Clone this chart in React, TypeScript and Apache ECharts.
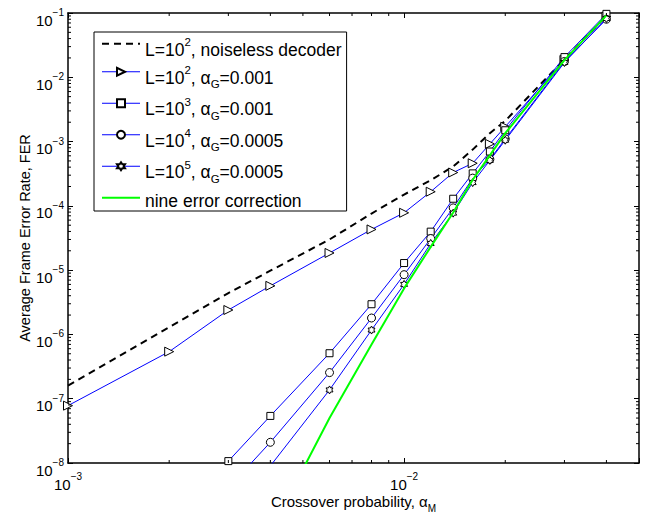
import React, { useEffect, useRef } from "react";
import * as echarts from "echarts";

// Axis extents (log-log)
const X_MIN = 0.001;
const X_MAX = 0.05;
const Y_MIN = 1e-8;
const Y_MAX = 1e-1;

// L=10^2, noiseless decoder (dashed)
const xNoiseless = [0.001, 0.002, 0.003, 0.004, 0.006, 0.008, 0.01, 0.012, 0.014, 0.016, 0.018, 0.02, 0.03, 0.04];
const ferNoiseless = [1.6e-7, 1.3e-6, 4.4e-6, 9.8e-6, 3.0e-5, 7.6e-5, 1.5e-4, 2.5e-4, 4.1e-4, 7.5e-4, 1.35e-3, 2.1e-3, 1.9e-2, 9.0e-2];

// L=10^2, alpha_G=0.001 (triangles)
const xL2 = [0.001, 0.002, 0.003, 0.004, 0.006, 0.008, 0.01, 0.012, 0.014, 0.016, 0.018, 0.02, 0.03, 0.04];
const ferL2 = [7.8e-8, 5.4e-7, 2.4e-6, 5.7e-6, 1.85e-5, 4.3e-5, 7.8e-5, 1.66e-4, 3.3e-4, 4.6e-4, 9.2e-4, 1.7e-3, 1.86e-2, 8.8e-2];

// L=10^3, alpha_G=0.001 (squares)
const xL3 = [0.003, 0.004, 0.006, 0.008, 0.01, 0.012, 0.014, 0.016, 0.018, 0.02, 0.03, 0.04];
const ferL3 = [1.07e-8, 5.4e-8, 5.1e-7, 2.95e-6, 1.29e-5, 3.97e-5, 1.29e-4, 3.2e-4, 7.0e-4, 1.5e-3, 2.06e-2, 9.7e-2];

// L=10^4, alpha_G=0.0005 (circles)
const xL4 = [0.003, 0.004, 0.006, 0.008, 0.01, 0.012, 0.014, 0.016, 0.018, 0.02, 0.03, 0.04];
const ferL4 = [4.1e-9, 2.1e-8, 2.55e-7, 1.8e-6, 8.5e-6, 3.1e-5, 9.3e-5, 2.7e-4, 5.3e-4, 1.1e-3, 1.76e-2, 8.0e-2];

// L=10^5, alpha_G=0.0005 (hexagrams)
const xL5 = [0.004, 0.006, 0.008, 0.01, 0.012, 0.014, 0.016, 0.018, 0.02, 0.03, 0.04];
const ferL5 = [9e-9, 1.37e-7, 1.17e-6, 6.0e-6, 2.6e-5, 7.7e-5, 2.3e-4, 5.1e-4, 1.05e-3, 1.7e-2, 8.2e-2];

// Nine error correction (green)
const xNine = [0.004, 0.005, 0.006, 0.008, 0.01, 0.012, 0.014, 0.016, 0.018, 0.02, 0.03, 0.04];
const ferNine = [8e-10, 8e-9, 5e-8, 7e-7, 5.2e-6, 2.3e-5, 7.9e-5, 2.55e-4, 6.1e-4, 1.35e-3, 1.85e-2, 9.2e-2];

// Series names and their legend captions
const NAME_NOISELESS = "L=10^2, noiseless decoder";
const NAME_L2 = "L=10^2, αG=0.001";
const NAME_L3 = "L=10^3, αG=0.001";
const NAME_L4 = "L=10^4, αG=0.0005";
const NAME_L5 = "L=10^5, αG=0.0005";
const NAME_NINE = "nine error correction";

const legendCaptions: Record<string, string> = {
  [NAME_NOISELESS]: "{t|L=10}{sup|2}{t|, noiseless decoder}",
  [NAME_L2]: "{t|L=10}{sup|2}{t|, α}{sub|G}{t|=0.001}",
  [NAME_L3]: "{t|L=10}{sup|3}{t|, α}{sub|G}{t|=0.001}",
  [NAME_L4]: "{t|L=10}{sup|4}{t|, α}{sub|G}{t|=0.0005}",
  [NAME_L5]: "{t|L=10}{sup|5}{t|, α}{sub|G}{t|=0.0005}",
  [NAME_NINE]: "{p|nine error correction}",
};

const FONT = '"Liberation Sans", Arial, Helvetica, sans-serif';
const BLUE = "#0000ff";
const GREEN = "#00ff00";
const LEG_FS = 17.5;

// Minor tick positions (2..9 within each decade)
const xMinorTicks: number[] = [];
for (const dec of [0.001, 0.01]) {
  for (let m = 2; m <= 9; m++) {
    const v = dec * m;
    if (v < X_MAX - 1e-12) xMinorTicks.push(v);
  }
}
const yMinorTicks: number[] = [];
for (let e = -8; e <= -2; e++) {
  for (let m = 2; m <= 9; m++) yMinorTicks.push(m * Math.pow(10, e));
}

// Six-pointed star outline used as a marker
const hexagram = (() => {
  const pts: string[] = [];
  for (let k = 0; k < 12; k++) {
    const a = ((-90 + k * 30) * Math.PI) / 180;
    const r = k % 2 === 0 ? 10 : 10 / Math.sqrt(3);
    pts.push(`${(10 + r * Math.cos(a)).toFixed(3)} ${(10 + r * Math.sin(a)).toFixed(3)}`);
  }
  return "path://M" + pts.join(" L") + " Z";
})();

const pairs = (xs: number[], ys: number[]) => xs.map((x, i) => [x, ys[i]]);

const expLabel = (v: number) => {
  const e = Math.log10(v);
  const r = Math.round(e);
  if (Math.abs(e - r) > 1e-6) return "";
  return `{b|10}{e|${r < 0 ? "\u2212" : ""}${Math.abs(r)}}`;
};

// y labels: base centred on the tick, exponent raised
const yTickRich = {
  b: { fontSize: 15, lineHeight: 15, fontFamily: FONT, color: "#000", verticalAlign: "top", padding: [7, 0, 7, 0] },
  e: { fontSize: 10, lineHeight: 10, fontFamily: FONT, color: "#000", verticalAlign: "top", padding: [2, 0, 0, 0] },
};
// x labels: hang below the axis
const xTickRich = {
  b: { fontSize: 15, lineHeight: 13, fontFamily: FONT, color: "#000", verticalAlign: "top", padding: [7, 0, 0, 0] },
  e: { fontSize: 10, lineHeight: 10, fontFamily: FONT, color: "#000", verticalAlign: "top", padding: [1.5, 0, 0, 0] },
};

const axisLine = { show: true, onZero: false, lineStyle: { color: "#000", width: 1.5 } };
const axisTick = { show: true, inside: true, length: 5, lineStyle: { color: "#000", width: 1 } };

const markerStyle = { color: "#fff", borderColor: "#000", borderWidth: 1 };

function buildOption(): any {
  return {
    animation: false,
    backgroundColor: "#fff",
    textStyle: { fontFamily: FONT },
    grid: { left: 68, right: 12, top: 13, bottom: 54, containLabel: false, outerBoundsMode: "none" },
    xAxis: [
      {
        type: "log",
        logBase: 10,
        min: X_MIN,
        max: X_MAX,
        position: "bottom",
        axisLine,
        axisTick,
        splitLine: { show: false },
        axisLabel: { formatter: expLabel, margin: 7, rich: xTickRich },
        name: "{t|Crossover probability, α}{sub|M}",
        nameLocation: "middle",
        nameGap: 31,
        nameMoveOverlap: false,
        nameTextStyle: {
          rich: {
            t: { fontSize: 15, lineHeight: 14, fontFamily: FONT, color: "#000", verticalAlign: "top" },
            sub: { fontSize: 10, lineHeight: 10, fontFamily: FONT, color: "#000", verticalAlign: "top", padding: [9, 0, 0, 0] },
          },
        },
      },
      {
        type: "log",
        logBase: 10,
        min: X_MIN,
        max: X_MAX,
        position: "top",
        axisLine,
        axisTick,
        axisLabel: { show: false },
        splitLine: { show: false },
      },
    ],
    yAxis: [
      {
        type: "log",
        logBase: 10,
        min: Y_MIN,
        max: Y_MAX,
        splitNumber: 7,
        position: "left",
        axisLine,
        axisTick,
        splitLine: { show: false },
        axisLabel: { formatter: expLabel, margin: 4, rich: yTickRich },
        name: "Average Frame Error Rate, FER",
        nameLocation: "middle",
        nameGap: 36,
        nameMoveOverlap: false,
        nameTextStyle: { fontSize: 14.5, fontFamily: FONT, color: "#000" },
      },
      {
        type: "log",
        logBase: 10,
        min: Y_MIN,
        max: Y_MAX,
        splitNumber: 7,
        position: "right",
        axisLine,
        axisTick,
        axisLabel: { show: false },
        splitLine: { show: false },
      },
    ],
    legend: {
      orient: "vertical",
      left: 94,
      top: 32,
      data: [
        { name: NAME_NOISELESS, lineStyle: { width: 2 }, itemStyle: { opacity: 0 } },
        { name: NAME_L2, lineStyle: { width: 1 } },
        { name: NAME_L3, lineStyle: { width: 1 } },
        { name: NAME_L4, lineStyle: { width: 1 } },
        { name: NAME_L5, lineStyle: { width: 1 } },
        { name: NAME_NINE, lineStyle: { width: 2 }, itemStyle: { opacity: 0 } },
      ],
      formatter: (n: string) => legendCaptions[n] ?? n,
      itemWidth: 38,
      itemHeight: 10,
      itemGap: 4.5,
      padding: [3, 5, 1, 7],
      borderColor: "#000",
      borderWidth: 1,
      borderRadius: 0,
      backgroundColor: "#fff",
      selectedMode: false,
      textStyle: {
        color: "#000",
        fontFamily: FONT,
        fontSize: LEG_FS,
        rich: {
          t: { fontSize: LEG_FS, lineHeight: LEG_FS, fontFamily: FONT, color: "#000", verticalAlign: "top", padding: [5.5, 0, 0, 0] },
          p: { fontSize: LEG_FS, lineHeight: LEG_FS, fontFamily: FONT, color: "#000", verticalAlign: "top", padding: [3, 0, 0, 0] },
          sup: { fontSize: 11.5, lineHeight: 11.5, fontFamily: FONT, color: "#000", verticalAlign: "top", padding: [1, 0, 0, 0] },
          sub: { fontSize: 11.5, lineHeight: 11.5, fontFamily: FONT, color: "#000", verticalAlign: "top", padding: [15, 0, 0, 0] },
        },
      },
    },
    series: [
      {
        name: NAME_NOISELESS,
        type: "line",
        data: pairs(xNoiseless, ferNoiseless),
        symbol: "none",
        lineStyle: { color: "#000", width: 2, type: [7, 5] },
        itemStyle: { color: "#000" },
        clip: true,
        z: 2,
      },
      {
        name: NAME_L2,
        type: "line",
        data: pairs(xL2, ferL2),
        symbol: "triangle",
        symbolRotate: -90,
        symbolSize: 9,
        lineStyle: { color: BLUE, width: 1 },
        itemStyle: markerStyle,
        clip: true,
        z: 3,
      },
      {
        name: NAME_L3,
        type: "line",
        data: pairs(xL3, ferL3),
        symbol: "rect",
        symbolSize: 7,
        lineStyle: { color: BLUE, width: 1 },
        itemStyle: markerStyle,
        clip: true,
        z: 3,
      },
      {
        name: NAME_L4,
        type: "line",
        data: pairs(xL4, ferL4),
        symbol: "circle",
        symbolSize: 8,
        lineStyle: { color: BLUE, width: 1 },
        itemStyle: markerStyle,
        clip: true,
        z: 3,
      },
      {
        name: NAME_L5,
        type: "line",
        data: pairs(xL5, ferL5),
        symbol: hexagram,
        symbolKeepAspect: true,
        symbolSize: 8,
        lineStyle: { color: BLUE, width: 1 },
        itemStyle: markerStyle,
        clip: true,
        z: 3,
      },
      {
        name: NAME_NINE,
        type: "line",
        data: pairs(xNine, ferNine),
        symbol: "none",
        lineStyle: { color: GREEN, width: 2 },
        itemStyle: { color: GREEN },
        clip: true,
        z: 4,
      },
      {
        name: "x minor ticks",
        type: "custom",
        silent: true,
        z: 5,
        data: xMinorTicks.map((v) => [v, Y_MIN]),
        encode: { x: 0, y: 1 },
        renderItem: (_params: any, api: any) => {
          const v = api.value(0);
          const b = api.coord([v, Y_MIN]);
          const t = api.coord([v, Y_MAX]);
          return {
            type: "group",
            children: [
              { type: "line", shape: { x1: b[0], y1: b[1], x2: b[0], y2: b[1] - 3 }, style: { stroke: "#000", lineWidth: 1 } },
              { type: "line", shape: { x1: t[0], y1: t[1], x2: t[0], y2: t[1] + 3 }, style: { stroke: "#000", lineWidth: 1 } },
            ],
          };
        },
      },
      {
        name: "y minor ticks",
        type: "custom",
        silent: true,
        z: 5,
        data: yMinorTicks.map((v) => [X_MIN, v]),
        encode: { x: 0, y: 1 },
        renderItem: (_params: any, api: any) => {
          const v = api.value(1);
          const l = api.coord([X_MIN, v]);
          const r = api.coord([X_MAX, v]);
          return {
            type: "group",
            children: [
              { type: "line", shape: { x1: l[0], y1: l[1], x2: l[0] + 3, y2: l[1] }, style: { stroke: "#000", lineWidth: 1 } },
              { type: "line", shape: { x1: r[0], y1: r[1], x2: r[0] - 3, y2: r[1] }, style: { stroke: "#000", lineWidth: 1 } },
            ],
          };
        },
      },
    ],
  };
}

export default function App() {
  const ref = useRef<HTMLDivElement>(null);
  useEffect(() => {
    if (!ref.current) return;
    const chart = echarts.init(ref.current, null, { renderer: "svg" });
    chart.setOption(buildOption());
    return () => chart.dispose();
  }, []);
  return (
    <div
      ref={ref}
      style={{ position: "absolute", left: 0, top: 0, width: 651, height: 517, background: "#fff" }}
    />
  );
}
